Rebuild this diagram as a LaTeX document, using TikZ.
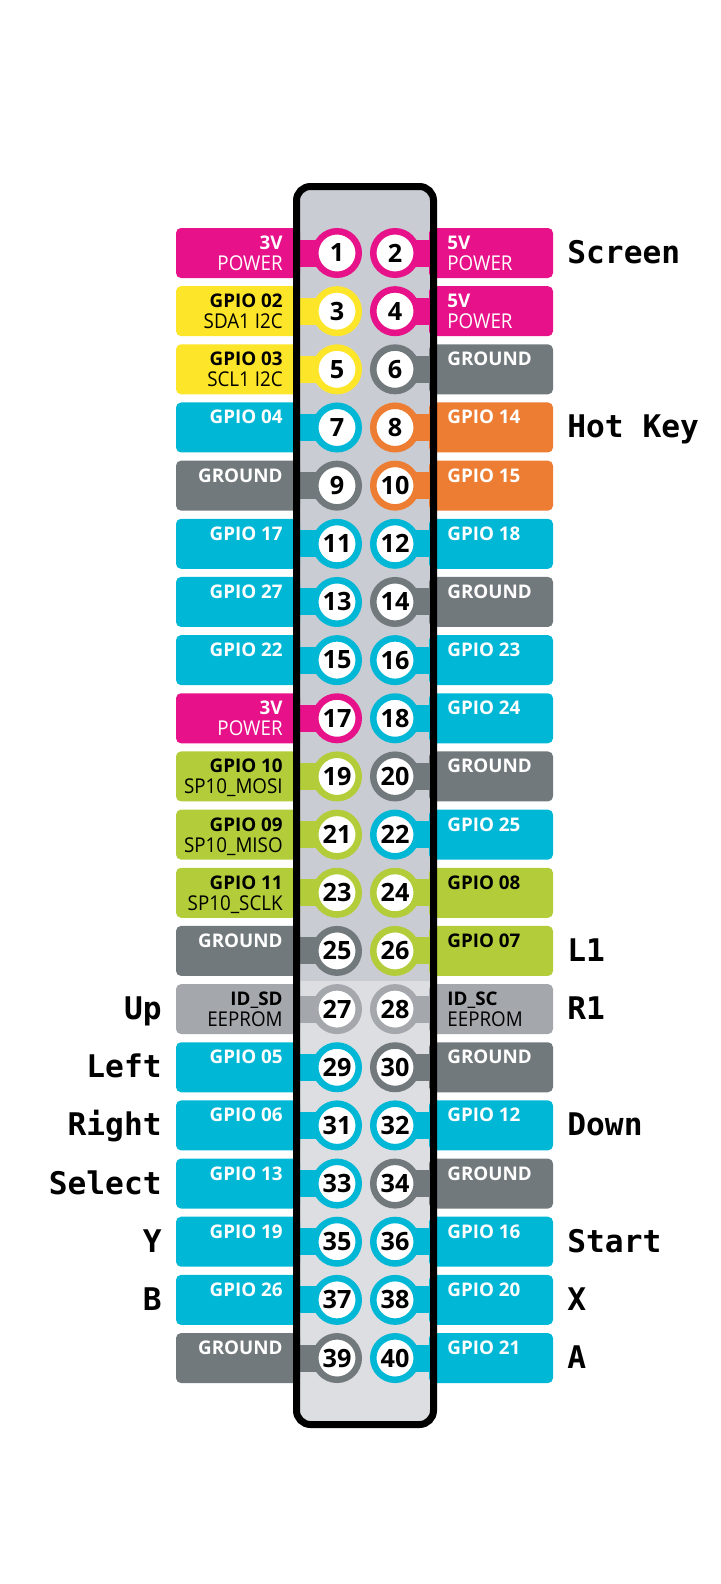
\documentclass[tikz,border=0pt]{standalone}
\usepackage{fontspec}
\setmainfont{Open Sans}
\newfontfamily\thinfont[FakeStretch=0.92]{Open Sans}
\newfontfamily\keyfont{DejaVu Sans Mono}
\usetikzlibrary{calc}

\definecolor{pwr}{RGB}{231,18,138}
\definecolor{iic}{RGB}{253,230,42}
\definecolor{gp}{RGB}{0,183,213}
\definecolor{gnd}{RGB}{114,121,124}
\definecolor{uart}{RGB}{236,125,50}
\definecolor{spi}{RGB}{178,205,57}
\definecolor{eep}{RGB}{164,168,173}
\definecolor{boardhi}{RGB}{201,204,211}
\definecolor{boardlo}{RGB}{221,222,226}

\begin{document}
\begin{tikzpicture}[x=0.5pt, y=-0.5pt,
    pinbox/.style={rectangle, rounded corners=2.5pt, minimum width=62pt,
                   minimum height=25pt, inner sep=0pt},
    pin/.style={circle, fill=white, line width=3.25pt, minimum size=21.75pt,
                inner sep=0pt, font=\fontsize{12.6}{13}\selectfont\bfseries},
    band/.style={line width=13.5pt},
    topline/.style={inner sep=0pt, font=\fontsize{9.4}{10}\selectfont\bfseries},
    subline/.style={inner sep=0pt, font=\fontsize{10.2}{11}\thinfont},
    keylabel/.style={inner sep=0pt, font=\fontsize{15.6}{16}\keyfont\bfseries}]
    \useasboundingbox (0,0) rectangle (720,1584);

    \begin{scope}
        \clip[rounded corners=7pt] (296.5,186.5) rectangle (433.5,1424.5);
        \fill[boardlo] (296.5,186.5) rectangle (433.5,1424.5);
        \fill[boardhi] (296.5,186.5) rectangle (433.5,981);
    \end{scope}

    \foreach \r/\col/\tc/\nm/\fn in {1/pwr/white/3V/POWER,
            2/iic/black/GPIO 02/SDA1 I2C, 3/iic/black/GPIO 03/SCL1 I2C,
            4/gp/white/GPIO 04/{}, 5/gnd/white/GROUND/{},
            6/gp/white/GPIO 17/{}, 7/gp/white/GPIO 27/{},
            8/gp/white/GPIO 22/{}, 9/pwr/white/3V/POWER,
            10/spi/black/GPIO 10/SP10\_MOSI, 11/spi/black/GPIO 09/SP10\_MISO,
            12/spi/black/GPIO 11/SP10\_SCLK, 13/gnd/white/GROUND/{},
            14/eep/black/ID\_SD/EEPROM, 15/gp/white/GPIO 05/{},
            16/gp/white/GPIO 06/{}, 17/gp/white/GPIO 13/{},
            18/gp/white/GPIO 19/{}, 19/gp/white/GPIO 26/{},
            20/gnd/white/GROUND/{}} {
        \pgfmathsetmacro\yc{253+(\r-1)*58.16}
        \pgfmathtruncatemacro\n{2*\r-1}
        \node[pinbox, fill=\col] (lb\n) at (238,\yc) {};
        \node[topline, text=\tc, anchor=base east] (la\n) at (283,\yc-3.5) {\nm};
        \node[subline, text=\tc, anchor=base east] (lf\n) at (283,\yc+17.5) {\fn};
        \coordinate (pc\n) at (337,\yc);
        \draw[band, \col] (lb\n.east) -- (pc\n);
        \node[pin, draw=\col] (p\n) at (pc\n) {\n};
    }

    \foreach \r/\col/\tc/\nm/\fn in {1/pwr/white/5V/POWER,
            2/pwr/white/5V/POWER, 3/gnd/white/GROUND/{},
            4/uart/white/GPIO 14/{}, 5/uart/white/GPIO 15/{},
            6/gp/white/GPIO 18/{}, 7/gnd/white/GROUND/{},
            8/gp/white/GPIO 23/{}, 9/gp/white/GPIO 24/{},
            10/gnd/white/GROUND/{}, 11/gp/white/GPIO 25/{},
            12/spi/black/GPIO 08/{}, 13/spi/black/GPIO 07/{},
            14/eep/black/ID\_SC/EEPROM, 15/gnd/white/GROUND/{},
            16/gp/white/GPIO 12/{}, 17/gnd/white/GROUND/{},
            18/gp/white/GPIO 16/{}, 19/gp/white/GPIO 20/{},
            20/gp/white/GPIO 21/{}} {
        \pgfmathsetmacro\yc{253+(\r-1)*58.16}
        \pgfmathtruncatemacro\n{2*\r}
        \node[pinbox, fill=\col] (rb\n) at (491,\yc) {};
        \node[topline, text=\tc, anchor=base west] (ra\n) at (447,\yc-3.5) {\nm};
        \node[subline, text=\tc, anchor=base west] (rf\n) at (447,\yc+17.5) {\fn};
        \coordinate (pc\n) at (395,\yc);
        \draw[band, \col] (rb\n.west) -- (pc\n);
        \node[pin, draw=\col] (p\n) at (pc\n) {\n};
    }

    \draw[line width=3.5pt, rounded corners=7pt]
        (296.5,186.5) rectangle (433.5,1424.5);

    \foreach \r/\t in {1/Screen, 4/Hot Key, 13/L1, 14/R1, 16/Down,
            18/Start, 19/X, 20/A} {
        \pgfmathsetmacro\yc{253+(\r-1)*58.16+10.5}
        \node[keylabel, anchor=base west] (kr\r) at (567,\yc) {\t};
    }
    \foreach \r/\t in {14/Up, 15/Left, 16/Right, 17/Select, 18/Y, 19/B} {
        \pgfmathsetmacro\yc{253+(\r-1)*58.16+10.5}
        \node[keylabel, anchor=base east] (kl\r) at (162,\yc) {\t};
    }
\end{tikzpicture}
\end{document}
